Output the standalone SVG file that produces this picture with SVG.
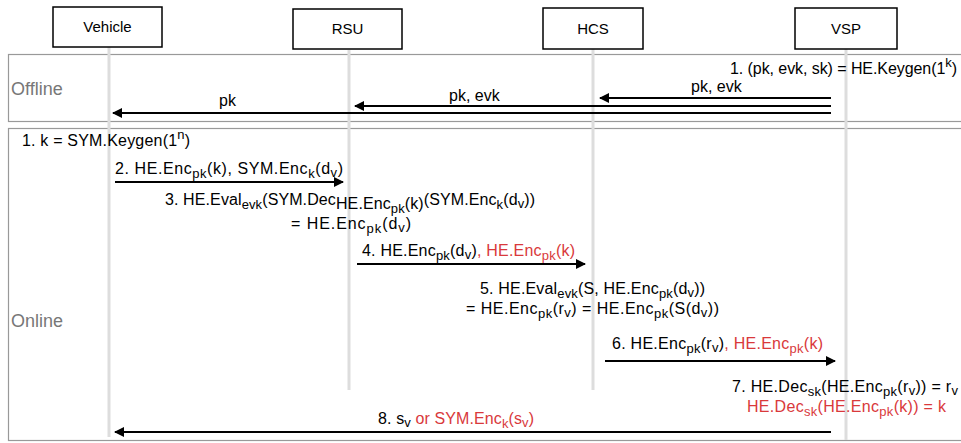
<svg xmlns="http://www.w3.org/2000/svg" width="961" height="443" viewBox="0 0 961 443">
<style>
text{font-family:"Liberation Sans","DejaVu Sans",sans-serif;font-size:16px;fill:#000}
.r{fill:#d9393b}
.s{font-size:13px}
.lbl{font-size:18px;fill:#777}
.frame{fill:none;stroke:#999;stroke-width:1.2}
.life{stroke:#ddd;stroke-width:3}
.box rect{fill:#fff;stroke:#000;stroke-width:1.5}
.box text{font-size:15px;text-anchor:middle}
.arr{stroke:#000;stroke-width:2;fill:none}
</style>
<defs>
<marker id="ah" viewBox="0 0 10 10" refX="9" refY="5" markerWidth="5" markerHeight="5" orient="auto" markerUnits="strokeWidth">
<path d="M0,0 L10,5 L0,10 z" fill="#000"/>
</marker>
</defs>
<rect class="frame" x="8.5" y="54.5" width="960" height="67"/>
<rect class="frame" x="8.5" y="128.5" width="960" height="312"/>
<text class="lbl" x="11" y="95">Offline</text>
<text class="lbl" x="11" y="327">Online</text>
<g id="lifelines">
<line class="life" x1="109" y1="47" x2="109" y2="437"/>
<line class="life" x1="349" y1="50" x2="349" y2="390"/>
<line class="life" x1="593" y1="49" x2="593" y2="390"/>
<line class="life" x1="846" y1="49" x2="846" y2="440"/>
</g>
<g id="vehicle" class="box"><rect x="53" y="7" width="109" height="40"/><text x="107.5" y="32">Vehicle</text></g>
<g id="rsu" class="box"><rect x="293" y="9" width="109" height="40"/><text x="347.5" y="34">RSU</text></g>
<g id="hcs" class="box"><rect x="543" y="8" width="100" height="41"/><text x="593" y="34">HCS</text></g>
<g id="vsp" class="box"><rect x="795" y="8" width="102" height="41"/><text x="846" y="34">VSP</text></g>
<g id="connectors">
<line class="arr" x1="831" y1="98" x2="600" y2="98" marker-end="url(#ah)"/>
<line class="arr" x1="831" y1="106" x2="355" y2="106" marker-end="url(#ah)"/>
<line class="arr" x1="831" y1="113" x2="113" y2="113" marker-end="url(#ah)"/>
<line class="arr" x1="115" y1="182" x2="343" y2="182" marker-end="url(#ah)"/>
<line class="arr" x1="357" y1="264" x2="585" y2="264" marker-end="url(#ah)"/>
<line class="arr" x1="605" y1="361" x2="835" y2="361" marker-end="url(#ah)"/>
<line class="arr" x1="831" y1="432" x2="115" y2="432" marker-end="url(#ah)"/>
</g>
<g id="labels">
<text x="730" y="74" textLength="227" lengthAdjust="spacing">1. (pk, evk, sk) = HE.Keygen(1<tspan class="s" dy="-7">k</tspan><tspan dy="7">)</tspan></text>
<text x="691" y="92">pk, evk</text>
<text x="449" y="101">pk, evk</text>
<text x="219" y="106">pk</text>
<text x="22" y="146" textLength="168" lengthAdjust="spacing">1. k = SYM.Keygen(1<tspan class="s" dy="-7">n</tspan><tspan dy="7">)</tspan></text>
<text x="115" y="174" textLength="228" lengthAdjust="spacing">2. HE.Enc<tspan class="s" dy="4">pk</tspan><tspan dy="-4">(k), SYM.Enc</tspan><tspan class="s" dy="4">k</tspan><tspan dy="-4">(d</tspan><tspan class="s" dy="3">v</tspan><tspan dy="-3">)</tspan></text>
<text x="165" y="205" textLength="370" lengthAdjust="spacing">3. HE.Eval<tspan class="s" dy="4">evk</tspan><tspan dy="-4">(SYM.Dec</tspan><tspan dy="4">HE.Enc</tspan><tspan class="s" dy="4">pk</tspan><tspan dy="-4">(k)</tspan><tspan dy="-4">(SYM.Enc</tspan><tspan class="s" dy="4">k</tspan><tspan dy="-4">(d</tspan><tspan class="s" dy="3">v</tspan><tspan dy="-3">))</tspan></text>
<text x="291" y="229" textLength="120" lengthAdjust="spacing">= HE.Enc<tspan class="s" dy="4">pk</tspan><tspan dy="-4">(d</tspan><tspan class="s" dy="3">v</tspan><tspan dy="-3">)</tspan></text>
<text x="362" y="256" textLength="213" lengthAdjust="spacing">4. HE.Enc<tspan class="s" dy="4">pk</tspan><tspan dy="-4">(d</tspan><tspan class="s" dy="3">v</tspan><tspan dy="-3">)</tspan><tspan class="r">, HE.Enc</tspan><tspan class="s r" dy="4">pk</tspan><tspan class="r" dy="-4">(k)</tspan></text>
<text x="480" y="294" textLength="225" lengthAdjust="spacing">5. HE.Eval<tspan class="s" dy="4">evk</tspan><tspan dy="-4">(S, HE.Enc</tspan><tspan class="s" dy="4">pk</tspan><tspan dy="-4">(d</tspan><tspan class="s" dy="3">v</tspan><tspan dy="-3">))</tspan></text>
<text x="466" y="314" textLength="253" lengthAdjust="spacing">= HE.Enc<tspan class="s" dy="4">pk</tspan><tspan dy="-4">(r</tspan><tspan class="s" dy="3">v</tspan><tspan dy="-3">) = HE.Enc</tspan><tspan class="s" dy="4">pk</tspan><tspan dy="-4">(S(d</tspan><tspan class="s" dy="3">v</tspan><tspan dy="-3">))</tspan></text>
<text x="612" y="349" textLength="211" lengthAdjust="spacing">6. HE.Enc<tspan class="s" dy="4">pk</tspan><tspan dy="-4">(r</tspan><tspan class="s" dy="3">v</tspan><tspan dy="-3">)</tspan><tspan class="r">, HE.Enc</tspan><tspan class="s r" dy="4">pk</tspan><tspan class="r" dy="-4">(k)</tspan></text>
<text x="732" y="392" textLength="226" lengthAdjust="spacing">7. HE.Dec<tspan class="s" dy="4">sk</tspan><tspan dy="-4">(HE.Enc</tspan><tspan class="s" dy="4">pk</tspan><tspan dy="-4">(r</tspan><tspan class="s" dy="3">v</tspan><tspan dy="-3">)) = r</tspan><tspan class="s" dy="3">v</tspan></text>
<text class="r" x="747" y="412" textLength="199" lengthAdjust="spacing">HE.Dec<tspan class="s r" dy="4">sk</tspan><tspan class="r" dy="-4">(HE.Enc</tspan><tspan class="s r" dy="4">pk</tspan><tspan class="r" dy="-4">(k)) = k</tspan></text>
<text x="378" y="424" textLength="156" lengthAdjust="spacing">8. s<tspan class="s" dy="3">v</tspan><tspan class="r" dy="-3"> or SYM.Enc</tspan><tspan class="s r" dy="4">k</tspan><tspan class="r" dy="-4">(s</tspan><tspan class="s r" dy="3">v</tspan><tspan class="r" dy="-3">)</tspan></text>
</g>
</svg>
